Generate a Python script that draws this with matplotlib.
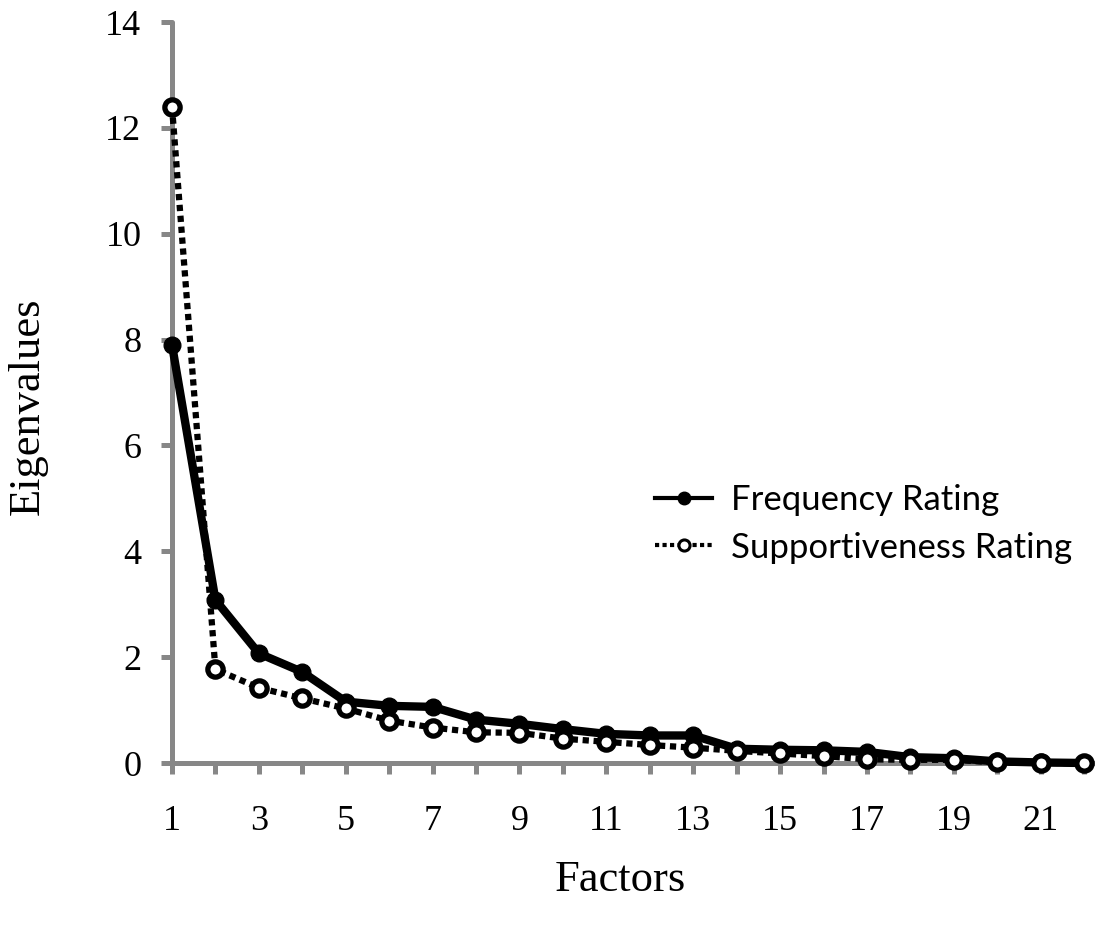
import matplotlib
matplotlib.use("Agg")
import matplotlib.pyplot as plt
from matplotlib.lines import Line2D

# %% Data
factors = list(range(1, 23))
frequency = [7.9, 3.08, 2.07, 1.72, 1.16, 1.08, 1.06, 0.82, 0.74, 0.64,
             0.55, 0.52, 0.52, 0.27, 0.25, 0.24, 0.21, 0.11, 0.09, 0.03, 0.01, 0.0]
supportiveness = [12.4, 1.77, 1.42, 1.22, 1.03, 0.8, 0.67, 0.58, 0.57, 0.46,
                  0.4, 0.34, 0.29, 0.23, 0.18, 0.13, 0.07, 0.06, 0.06, 0.01, 0.0, 0.0]
y_ticks = [0, 2, 4, 6, 8, 10, 12, 14]
x_labels = [str(f) if f % 2 else "" for f in factors]

grey = "#878787"
W, H = 1095, 930

fig = plt.figure(figsize=(W / 100, H / 100), dpi=100)
ax = fig.add_axes([172 / W, 1 - 763 / H, (W - 172) / W, (763 - 22) / H])

# %% Lines
ax.plot(factors, frequency, color="black", lw=6.0, marker="o", markersize=12,
        markerfacecolor="black", markeredgecolor="black", clip_on=False, zorder=3)
ax.plot(factors, supportiveness, color="black", lw=4.5, linestyle=(0, (1, 0.75)),
        dash_capstyle="butt", marker="o", markersize=11, markerfacecolor="white",
        markeredgecolor="black", markeredgewidth=3.8, clip_on=False, zorder=4)

# %% Axes styling
ax.set_xlim(1, 22.25)
ax.set_ylim(0, 14)
for side in ["top", "right"]:
    ax.spines[side].set_visible(False)
for side in ["left", "bottom"]:
    ax.spines[side].set_color(grey)
    ax.spines[side].set_linewidth(3.6)
    ax.spines[side].set_capstyle("round")

ax.set_yticks(y_ticks)
ax.set_xticks(factors)
ax.set_xticklabels(x_labels)
ax.tick_params(axis="both", colors=grey, width=3.6, length=8, labelcolor="black",
               labelsize=26)
ax.tick_params(axis="y", pad=14)
ax.tick_params(axis="x", pad=22)
for lab in ax.get_xticklabels() + ax.get_yticklabels():
    lab.set_family("Liberation Serif")

fig.text(620 / W, 1 - 880 / H, "Factors", ha="center", va="center",
         fontsize=32, family="Liberation Serif")
fig.text(28 / W, 1 - 406 / H, "Eigenvalues", ha="center", va="center",
         rotation=90, fontsize=32, family="Liberation Serif")

# %% Legend
handles = [
    Line2D([], [], color="black", lw=3, marker="o", markersize=9),
    Line2D([], [], color="black", lw=3, linestyle=(0, (1, 0.8)), marker="o",
           markersize=8, markerfacecolor="white", markeredgewidth=2.2),
]
ax.legend(handles, ["Frequency Rating", "Supportiveness Rating"],
          loc="upper left", bbox_to_anchor=(655 / W, 1 - 484 / H),
          bbox_transform=fig.transFigure, frameon=False, borderpad=0,
          borderaxespad=0, handlelength=1.65, handletextpad=0.55,
          labelspacing=0.45, prop={"family": "Lato", "size": 25})

fig.savefig("out.png", dpi=100)
